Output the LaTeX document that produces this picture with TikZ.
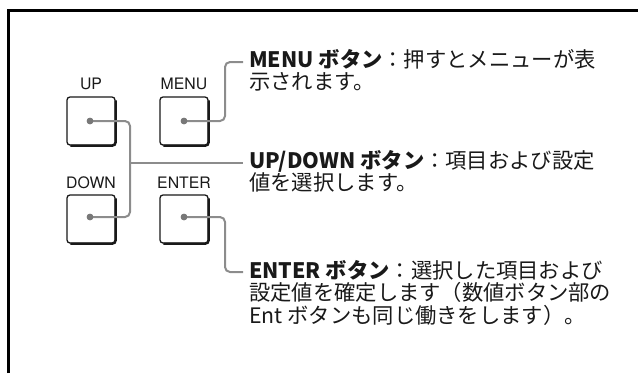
\documentclass[tikz,border=0pt]{standalone}
\usepackage{fontspec}
\newfontfamily\jp{Noto Sans CJK JP}
\newfontfamily\lat{TeX Gyre Heros}
\usetikzlibrary{calc}
\definecolor{conncol}{RGB}{140,140,140}
\definecolor{dotcol}{RGB}{120,120,120}
\definecolor{ink}{RGB}{25,25,25}
\begin{document}
\begin{tikzpicture}[x=1pt,y=-1pt,
  btn/.style={draw=ink, line width=1.3pt, rounded corners=3pt, minimum width=48pt, minimum height=48pt, inner sep=0pt},
  btnedge/.style={draw=ink, line width=2.2pt, rounded corners=3pt},
  btnlbl/.style={anchor=base, inner sep=0pt, font=\lat\fontsize{15.8}{18}\selectfont, text=ink},
  dotnode/.style={circle, fill=dotcol, minimum size=6.5pt, inner sep=0pt},
  conn/.style={draw=conncol, line width=2pt, rounded corners=5pt},
  desc/.style={anchor=base west, inner sep=0pt, font=\jp\fontsize{21.3}{22.8}\selectfont, text=ink},
  framestyle/.style={line width=2.5pt, draw=black}]
\useasboundingbox (0,0) rectangle (638,373);
\draw[framestyle] (8.7,373) -- (8.7,10.7) -- (638,10.7);

% buttons
\node[btn] (up) at (91,121) {};
\node[btn] (menu) at (184,121) {};
\node[btn] (down) at (91,219) {};
\node[btn] (enter) at (184,219) {};
\foreach \b in {up,menu,down,enter}{
  \draw[btnedge] ($(\b.north east)+(0,4)$) -- (\b.south east) -- ($(\b.south west)+(4,0)$);
}

% labels
\node[btnlbl] (uplbl) at (91,89) {UP};
\node[btnlbl] (menulbl) at (184,89) {MENU};
\node[btnlbl] (downlbl) at (91,188) {DOWN};
\node[btnlbl] (enterlbl) at (184,188) {ENTER};

% dots
\node[dotnode] (upd) at (90,121) {};
\node[dotnode] (menud) at (184,121) {};
\node[dotnode] (downd) at (90,217) {};
\node[dotnode] (enterd) at (184,217) {};

% descriptions
\node[desc] (menutxt) at (249,67) {\vtop{\hbox{{\bfseries MENU ボタン}：押すとメニューが表}\hbox{示されます。}}};
\node[desc] (udtxt) at (249,168) {\vtop{\hbox{{\bfseries UP/DOWN ボタン}：項目および設定}\hbox{値を選択します。}}};
\node[desc] (entertxt) at (249,278) {\vtop{\hbox{{\bfseries ENTER ボタン}：選択した項目および}\hbox{設定値を確定します（数値ボタン部の}\hbox{Ent ボタンも同じ働きをします）。}}};

% connector end points
\coordinate (junc) at (130,163);
\coordinate (menuend) at (243,62);
\coordinate (udend) at (243,163);
\coordinate (enterend) at (243,272);

% connectors
\draw[conn] (upd.center) -| (junc) |- (downd.center);
\draw[conn] (junc) -- (udend);
\draw[conn] (menud.center) -- ++(41,0) |- (menuend);
\draw[conn] (enterd.center) -- ++(41,0) |- (enterend);

% redraw dots on top
\foreach \d in {upd,menud,downd,enterd}{
  \fill[dotcol] (\d.center) circle (3.3pt);
}
\end{tikzpicture}
\end{document}
